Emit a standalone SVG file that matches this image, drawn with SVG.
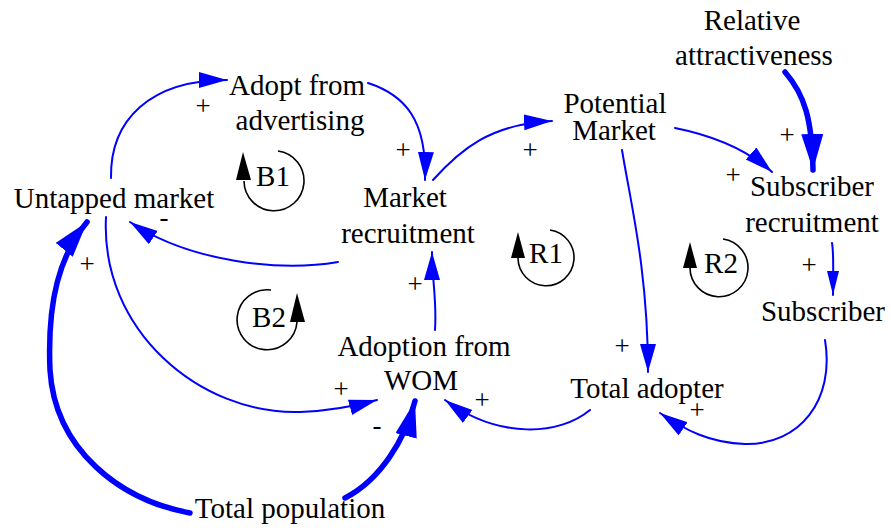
<svg xmlns="http://www.w3.org/2000/svg" width="891" height="531" viewBox="0 0 891 531">
<style>
.lbl{font-size:29px;fill:#000;text-anchor:middle}
.sgn{font-size:27px;fill:#000;text-anchor:middle}
.ln{fill:none;stroke:#0000ff;stroke-width:2;stroke-linecap:round}
.thk{fill:none;stroke:#0000ff;stroke-width:5.5;stroke-linecap:round}
.lp{fill:none;stroke:#000;stroke-width:1.6}
.lph{fill:#000}
</style>
<defs>
<marker id="arr" markerUnits="userSpaceOnUse" markerWidth="30" markerHeight="18" refX="28" refY="8" orient="auto" viewBox="0 0 30 18">
<path d="M0,0 L28,8 L0,16 z" fill="#0000ff"/>
</marker>
<marker id="arrS" markerUnits="userSpaceOnUse" markerWidth="26" markerHeight="14" refX="24" refY="6" orient="auto" viewBox="0 0 26 14">
<path d="M0,0 L24,6 L0,12 z" fill="#0000ff"/>
</marker>
<marker id="arrB" markerUnits="userSpaceOnUse" markerWidth="38" markerHeight="24" refX="36" refY="11" orient="auto" viewBox="0 0 38 24">
<path d="M0,0 L36,11 L0,22 z" fill="#0000ff"/>
</marker>
</defs>

<g id="connectors">
<path class="ln" d="M111,178 C110,120 150,80 227,80" marker-end="url(#arr)"/>
<path class="ln" d="M368,83 C405,95 427,120 425,180" marker-end="url(#arr)"/>
<path class="ln" d="M433,180 C460,150 490,124 552,121" marker-end="url(#arr)"/>
<path class="ln" d="M675,128 C710,135 745,148 772,172" marker-end="url(#arr)"/>
<path class="thk" d="M785,72 C805,95 812,120 813,170" marker-end="url(#arrB)"/>
<path class="ln" d="M832,243 C834,255 833,265 833,295" marker-end="url(#arrS)"/>
<path class="ln" d="M825,340 C835,400 800,445 745,444 C710,443 685,430 660,413" marker-end="url(#arr)"/>
<path class="ln" d="M622,150 C630,200 648,270 648,372" marker-end="url(#arr)"/>
<path class="ln" d="M590,410 C560,435 500,440 445,400" marker-end="url(#arr)"/>
<path class="thk" d="M345,498 C380,480 405,440 415,401" marker-end="url(#arrB)"/>
<path class="ln" d="M106,217 C100,330 200,415 300,412 C330,411 355,406 377,400" marker-end="url(#arr)"/>
<path class="ln" d="M338,262 C280,272 190,262 130,222" marker-end="url(#arr)"/>
<path class="ln" d="M435,330 C437,300 432,280 432,252" marker-end="url(#arr)"/>
<path class="thk" d="M190,513 C120,500 55,450 50,370 C47,300 60,255 87,222" marker-end="url(#arrB)"/>
</g>

<g id="texts" font-family="'Liberation Serif', 'Times New Roman', 'DejaVu Serif', serif">
<g id="signs">
<text class="sgn" x="203" y="115">+</text>
<text class="sgn" x="403" y="159">+</text>
<text class="sgn" x="530" y="159">+</text>
<text class="sgn" x="733" y="184">+</text>
<text class="sgn" x="787" y="144">+</text>
<text class="sgn" x="809" y="274">+</text>
<text class="sgn" x="697" y="419">+</text>
<text class="sgn" x="622" y="355">+</text>
<text class="sgn" x="482" y="409">+</text>
<text class="sgn" x="341" y="398">+</text>
<text class="sgn" x="377" y="434">-</text>
<text class="sgn" x="415" y="293">+</text>
<text class="sgn" x="164" y="226">-</text>
<text class="sgn" x="87" y="273">+</text>
</g>

<g id="node-relative-attractiveness">
<text class="lbl" x="752" y="30">Relative</text>
<text class="lbl" x="754" y="65">attractiveness</text>
</g>
<g id="node-adopt-from-advertising">
<text class="lbl" x="297" y="95">Adopt from</text>
<text class="lbl" x="300" y="130">advertising</text>
</g>
<g id="node-potential-market">
<text class="lbl" x="615" y="113">Potential</text>
<text class="lbl" x="614" y="140">Market</text>
</g>
<g id="node-market-recruitment">
<text class="lbl" x="405" y="207">Market</text>
<text class="lbl" x="408" y="243">recruitment</text>
</g>
<g id="node-untapped-market">
<text class="lbl" x="114" y="208">Untapped market</text>
</g>
<g id="node-subscriber-recruitment">
<text class="lbl" x="812" y="196">Subscriber</text>
<text class="lbl" x="812" y="232">recruitment</text>
</g>
<g id="node-subscriber">
<text class="lbl" x="823" y="321">Subscriber</text>
</g>
<g id="node-adoption-from-wom">
<text class="lbl" x="424" y="356">Adoption from</text>
<text class="lbl" x="421" y="390">WOM</text>
</g>
<g id="node-total-adopter">
<text class="lbl" x="647" y="398">Total adopter</text>
</g>
<g id="node-total-population">
<text class="lbl" x="290" y="518">Total population</text>
</g>

<g id="loop-B1">
<path class="lp" d="M244,181 A30,30 0 1 0 278,151"/>
<polygon class="lph" points="243,152 236,180 251,180"/>
<text class="lbl" x="273" y="186">B1</text>
</g>
<g id="loop-B2">
<path class="lp" d="M297,322 A30,30 0 1 1 271,290"/>
<polygon class="lph" points="297,293 290,322 305,322"/>
<text class="lbl" x="269" y="327">B2</text>
</g>
<g id="loop-R1">
<path class="lp" d="M518,258 A28,28 0 1 0 550,230"/>
<polygon class="lph" points="518,232 511,258 525,258"/>
<text class="lbl" x="546" y="263">R1</text>
</g>
<g id="loop-R2">
<path class="lp" d="M690,268 A29,29 0 1 0 723,239"/>
<polygon class="lph" points="690,242 683,268 697,268"/>
<text class="lbl" x="721" y="273">R2</text>
</g>
</g>
</svg>
